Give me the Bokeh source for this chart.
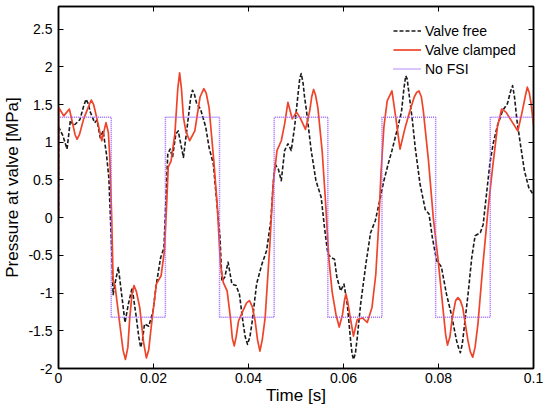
from bokeh.plotting import figure
from bokeh.models import LinearAxis, FixedTicker, Legend, LegendItem
from bokeh.embed import file_html
from bokeh.resources import INLINE

# ---------------- data ----------------
t_clamped = [0.0, 0.00005, 0.0011, 0.0023, 0.0035, 0.0039, 0.0044, 0.0053, 0.0065, 0.0069,
             0.0074, 0.0081, 0.0091, 0.0100, 0.0105, 0.0108, 0.0112, 0.0115, 0.0119, 0.0129,
             0.0136, 0.0141, 0.0146, 0.0150, 0.0155, 0.0159, 0.0164, 0.0171, 0.0179, 0.0185,
             0.0190, 0.0195, 0.0206, 0.0216, 0.0223, 0.0228, 0.0231, 0.0237, 0.0245, 0.0251,
             0.0255, 0.0259, 0.0263, 0.0268, 0.0276, 0.0287, 0.0298, 0.0306, 0.0311, 0.0317,
             0.0327, 0.0334, 0.0341, 0.0347, 0.0355, 0.0362, 0.0366, 0.0370, 0.0374, 0.0379,
             0.0388, 0.0396, 0.0402, 0.0408, 0.0414, 0.0419, 0.0424, 0.0429, 0.0435, 0.0445,
             0.0452, 0.0460, 0.0469, 0.0476, 0.0483, 0.0492, 0.0501, 0.0509, 0.0520, 0.0529,
             0.0533, 0.0537, 0.0541, 0.0546, 0.0555, 0.0562, 0.0569, 0.0576, 0.0584, 0.0591,
             0.0598, 0.0602, 0.0605, 0.0609, 0.0613, 0.0621, 0.0629, 0.0640, 0.0650, 0.0660,
             0.0668, 0.0674, 0.0679, 0.0685, 0.0692, 0.0702, 0.0710, 0.0719, 0.0730, 0.0740,
             0.0749, 0.0754, 0.0759, 0.0764, 0.0768, 0.0779, 0.0789, 0.0799, 0.0810, 0.0815,
             0.0819, 0.0824, 0.0829, 0.0836, 0.0841, 0.0846, 0.0851, 0.0862, 0.0867, 0.0872,
             0.0877, 0.0883, 0.0893, 0.0904, 0.0914, 0.0924, 0.0933, 0.0942, 0.0956, 0.0967,
             0.0976, 0.0983, 0.0987, 0.0991, 0.0995, 0.1000]
p_clamped = [0.0, 1.46, 1.35, 1.44, 1.10, 1.04, 1.10, 1.31, 1.50, 1.56,
             1.50, 1.31, 1.02, 1.26, 1.13, 0.80, 0.00, -0.84, -0.90, -1.41,
             -1.76, -1.88, -1.72, -1.33, -1.00, -0.90, -0.98, -1.19, -1.65, -1.86,
             -1.75, -1.46, -0.88, -0.77, -0.44, 0.22, 0.67, 0.75, 1.11, 1.70,
             1.92, 1.70, 1.33, 1.15, 1.02, 1.15, 1.60, 1.71, 1.65, 1.46,
             0.75, 0.18, -0.62, -0.86, -0.97, -1.33, -1.60, -1.70, -1.58, -1.37,
             -1.24, -1.13, -1.10, -1.18, -1.37, -1.62, -1.77, -1.62, -1.33, -0.35,
             0.45, 0.89, 1.02, 1.24, 1.53, 1.31, 1.40, 1.32, 1.17, 1.42,
             1.60, 1.70, 1.63, 1.46, 0.89, 0.23, -0.53, -0.98, -1.28, -1.45,
             -1.28, -1.10, -1.01, -1.12, -1.28, -1.57, -1.35, -1.33, -1.39, -1.19,
             -0.75, -0.10, 0.60, 1.20, 1.55, 1.68, 1.33, 0.91, 1.20, 1.42,
             1.60, 1.66, 1.68, 1.60, 1.42, 0.75, 0.00, -0.55, -1.24, -1.55,
             -1.69, -1.58, -1.33, -1.10, -1.06, -1.10, -1.19, -1.63, -1.78, -1.85,
             -1.72, -1.41, -0.66, 0.09, 0.67, 1.20, 1.44, 1.40, 1.26, 1.15,
             1.40, 1.62, 1.73, 1.66, 1.51, 1.22]

t_free = [0.0, 0.00005, 0.0009, 0.0018, 0.0025, 0.0032, 0.0045, 0.0053, 0.0058, 0.0062,
          0.0067, 0.0076, 0.0081, 0.0088, 0.0094, 0.0101, 0.0106, 0.0112, 0.0115, 0.0120,
          0.0126, 0.0133, 0.0140, 0.0147, 0.0155, 0.0164, 0.0169, 0.0173, 0.0177, 0.0181,
          0.0190, 0.0199, 0.0206, 0.0215, 0.0222, 0.0226, 0.0230, 0.0235, 0.0240, 0.0247,
          0.0252, 0.0263, 0.0272, 0.0278, 0.0282, 0.0286, 0.0291, 0.0299, 0.0310, 0.0317,
          0.0326, 0.0333, 0.0340, 0.0344, 0.0350, 0.0357, 0.0365, 0.0374, 0.0381, 0.0388,
          0.0393, 0.0398, 0.0403, 0.0408, 0.0417, 0.0428, 0.0438, 0.0447, 0.0452, 0.0456,
          0.0463, 0.0469, 0.0476, 0.0483, 0.0490, 0.0497, 0.0504, 0.0508, 0.0511, 0.0515,
          0.0518, 0.0522, 0.0532, 0.0542, 0.0553, 0.0560, 0.0567, 0.0574, 0.0581, 0.0586,
          0.0594, 0.0601, 0.0608, 0.0615, 0.0618, 0.0621, 0.0625, 0.0629, 0.0636, 0.0647,
          0.0657, 0.0667, 0.0676, 0.0685, 0.0694, 0.0702, 0.0710, 0.0722, 0.0727, 0.0731,
          0.0734, 0.0738, 0.0745, 0.0751, 0.0761, 0.0772, 0.0780, 0.0787, 0.0796, 0.0806,
          0.0817, 0.0827, 0.0838, 0.0842, 0.0846, 0.0850, 0.0855, 0.0863, 0.0870, 0.0877,
          0.0888, 0.0894, 0.0901, 0.0908, 0.0915, 0.0924, 0.0935, 0.0945, 0.0952, 0.0956,
          0.0960, 0.0965, 0.0973, 0.0981, 0.0990, 0.1000]
p_free = [0.0, 1.20, 1.09, 0.91, 1.29, 1.22, 1.30, 1.48, 1.57, 1.52,
          1.40, 1.26, 1.29, 1.06, 1.15, 0.84, 0.53, -0.44, -1.02, -0.84,
          -0.66, -1.02, -1.39, -1.15, -0.93, -1.33, -1.58, -1.72, -1.62, -1.41,
          -1.44, -1.24, -0.88, -0.53, -0.40, 0.22, 0.84, 0.91, 0.80, 1.11,
          1.15, 0.80, 1.26, 1.58, 1.69, 1.64, 1.51, 1.44, 1.20, 0.93,
          0.71, 0.22, -0.26, -0.84, -0.79, -0.59, -0.88, -0.90, -1.02, -1.37,
          -1.58, -1.68, -1.58, -1.37, -0.88, -0.62, -0.44, -0.04, 0.45, 0.71,
          0.64, 0.49, 0.89, 0.98, 0.89, 1.20, 1.62, 1.85, 1.91, 1.78,
          1.60, 1.42, 0.89, 0.49, 0.27, -0.13, -0.48, -0.53, -0.55, -0.79,
          -0.97, -0.88, -1.15, -1.63, -1.80, -1.88, -1.80, -1.59, -1.15, -0.62,
          -0.20, -0.04, 0.22, 0.49, 0.71, 0.89, 1.09, 1.40, 1.70, 1.88,
          1.84, 1.64, 1.29, 0.93, 0.45, 0.11, 0.05, -0.26, -0.57, -0.65,
          -1.02, -1.28, -1.63, -1.72, -1.79, -1.68, -1.41, -0.97, -0.53, -0.24,
          -0.20, -0.09, 0.31, 0.71, 0.98, 1.22, 1.42, 1.51, 1.68, 1.75,
          1.60, 1.30, 0.95, 0.62, 0.40, 0.30]

nofsi_edges = [0.0111, 0.0225, 0.0339, 0.0454, 0.0567, 0.0681, 0.0794, 0.0909]
nofsi_high = 1.33
nofsi_low = -1.32
t_end = 0.1

x_ticks = [0, 0.02, 0.04, 0.06, 0.08, 0.1]
x_tick_labels = ["0", "0.02", "0.04", "0.06", "0.08", "0.1"]
y_ticks = [-2, -1.5, -1, -0.5, 0, 0.5, 1, 1.5, 2, 2.5]
y_tick_labels = ["-2", "-1.5", "-1", "-0.5", "0", "0.5", "1", "1.5", "2", "2.5"]

# build the No-FSI square wave from its switching times
t_nofsi = [0.0, 0.0]
p_nofsi = [0.0, nofsi_high]
level = nofsi_high
for e in nofsi_edges:
    other = nofsi_low if level == nofsi_high else nofsi_high
    t_nofsi += [e, e]
    p_nofsi += [level, other]
    level = other
t_nofsi.append(t_end)
p_nofsi.append(level)

# ---------------- figure ----------------
FONT = "Liberation Sans"
p = figure(width=549, height=408, x_range=(0, 0.1), y_range=(-2, 2.8),
           output_backend="svg", toolbar_location=None,
           min_border_left=53, min_border_right=16, min_border_top=6, min_border_bottom=40)
p.grid.visible = False
p.outline_line_color = "black"
p.outline_line_width = 1.5
p.background_fill_color = "white"
p.border_fill_color = "white"

r_free = p.line(t_free, p_free, line_color="#1a1a1a", line_width=1.6, line_dash="4 2",
                line_join="round")
r_clamp = p.line(t_clamped, p_clamped, line_color="#f0442a", line_width=1.7, line_join="round")
r_nofsi = p.line(t_nofsi, p_nofsi, line_color="#a066ff", line_width=1.5, line_dash="1 1")

def style_axis(ax, ticks, labels=None):
    ax.ticker = FixedTicker(ticks=ticks)
    ax.major_tick_in = 5
    ax.major_tick_out = 0
    ax.minor_tick_in = 0
    ax.minor_tick_out = 0
    ax.axis_line_color = "black"
    ax.axis_line_width = 1.5
    ax.major_tick_line_color = "black"
    ax.major_tick_line_width = 1
    if labels is not None:
        ax.major_label_overrides = dict(zip(ticks, labels))
        ax.major_label_text_font = FONT
        ax.major_label_text_font_size = "14px"
        ax.major_label_text_color = "black"
        ax.axis_label_text_font = FONT
        ax.axis_label_text_font_size = "17px"
        ax.axis_label_text_font_style = "normal"
        ax.axis_label_text_color = "black"
    else:
        ax.major_label_overrides = {t: "" for t in ticks}
        ax.major_label_text_font_size = "1px"
        ax.major_label_standoff = 0

xax = p.xaxis[0]
yax = p.yaxis[0]
style_axis(xax, x_ticks, x_tick_labels)
style_axis(yax, y_ticks, y_tick_labels)
xax.axis_label = "Time [s]"
yax.axis_label = "Pressure at valve [MPa]"
xax.major_label_standoff = 4
xax.axis_label_standoff = 0
yax.major_label_standoff = 6
yax.axis_label_standoff = 3

top = LinearAxis()
right = LinearAxis()
style_axis(top, x_ticks)
style_axis(right, y_ticks)
p.add_layout(top, "above")
p.add_layout(right, "right")

legend = Legend(items=[LegendItem(label="Valve free", renderers=[r_free]),
                       LegendItem(label="Valve clamped", renderers=[r_clamp]),
                       LegendItem(label="No FSI", renderers=[r_nofsi])],
                location=(335, 290))
legend.label_text_font = FONT
legend.label_text_font_size = "14px"
legend.label_text_color = "black"
legend.border_line_color = None
legend.background_fill_alpha = 0
legend.glyph_width = 28
legend.glyph_height = 19
legend.label_height = 19
legend.label_standoff = 4
legend.spacing = 0
legend.padding = 5
legend.margin = 0
p.add_layout(legend, "center")

open("out.html", "w").write(file_html(p, INLINE))
